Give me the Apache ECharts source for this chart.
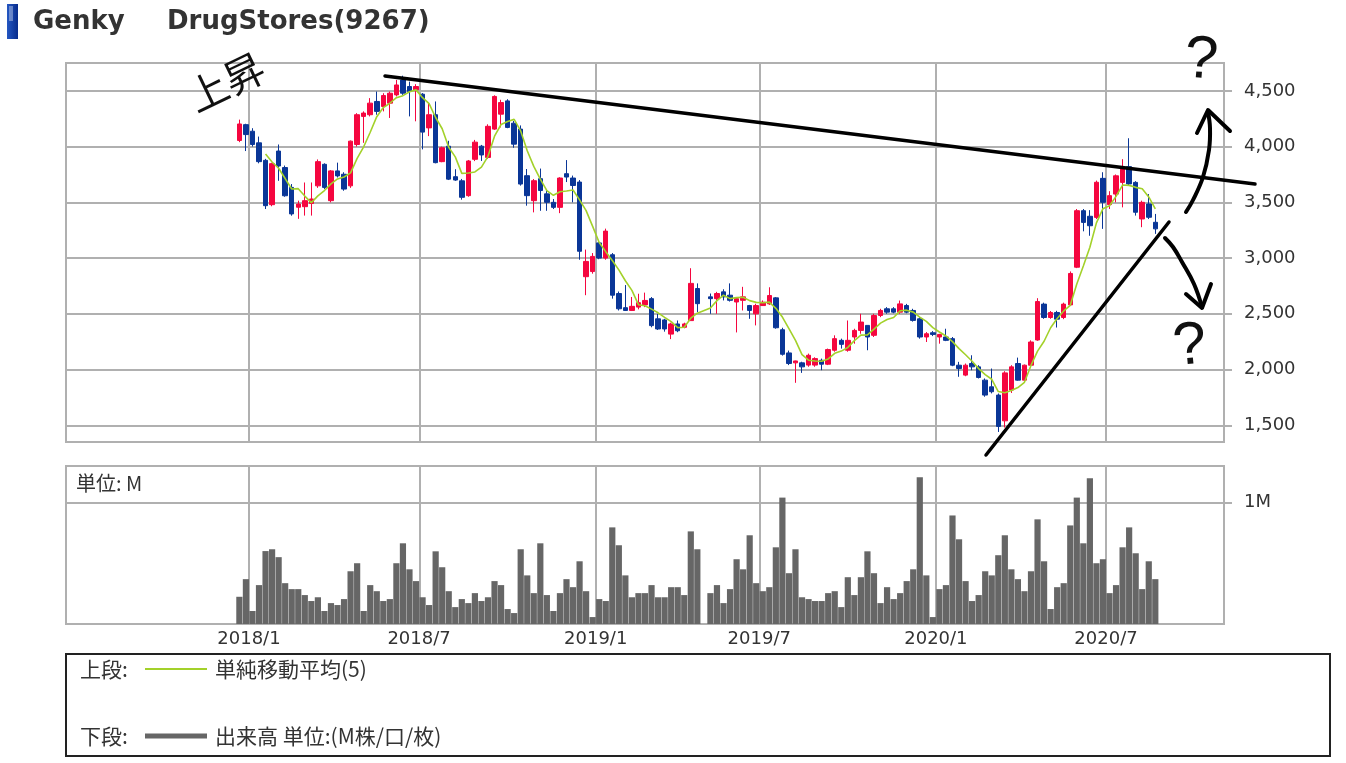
<!DOCTYPE html>
<html><head><meta charset="utf-8">
<script src="https://cdn.jsdelivr.net/npm/echarts@6/dist/echarts.min.js"></script>
<style>html,body{margin:0;padding:0;background:#fff}#c{width:1346px;height:763px}</style>
</head><body><div id="c"></div>
<script>
// ---- axis (weekly categories) ----
const firstAxisWeek = [2017, 6, 19];   // first week on the time axis
const axisWeekCount = 177;
const firstBarWeek = '2017-12-18';     // week of the first candle
const firstLabelWeek = '2018-01-01';
const labelMonths = [1, 7];
const priceTicks = [1500, 2000, 2500, 3000, 3500, 4000, 4500];

// ---- weekly OHLC (yen), one entry per week from firstBarWeek; null = no trading ----
const openPrices = [4055,4197,4138,4034,3877,3479,3960,3812,3634,3456,
3461,3490,3648,3841,3515,3782,3752,3648,4019,4271,
4286,4405,4360,4390,4464,4598,4539,4509,4470,4168,
4286,3865,4004,3730,3693,3560,3886,4004,3903,4157,
4291,4410,4210,4157,3739,3515,3712,3576,3500,3455,
3757,3718,3682,2833,2879,3136,3000,3030,2682,2555,
2530,2560,2580,2636,2455,2445,2318,2409,2379,2439,
2727,null,2652,2636,2697,2667,2606,2621,2574,2500,
2574,2589,2643,2357,2149,2060,2060,2040,2040,2083,
2048,2173,2262,2173,2292,2351,2396,2307,2485,2545,
2545,2515,2574,2530,2455,2292,2330,2292,2292,2277,
2039,1950,2054,2024,1905,1845,1771,1540,1816,2054,
1905,2039,2265,2587,2467,2512,2467,2580,2918,3425,
3375,3365,3715,3480,3574,3679,3820,3679,3351,3485,
3321];
const closePrices = [4203,4108,4019,3865,3470,3847,3826,3559,3396,3485,
3515,3530,3865,3634,3782,3737,3619,4049,4286,4301,
4390,4316,4458,4479,4553,4479,4494,4539,4130,4286,
3856,3990,3708,3700,3545,3871,4040,3925,4182,4450,
4395,4172,4022,3664,3560,3694,3606,3500,3455,3718,
3727,3651,3061,2970,3015,3000,3242,2667,2545,2530,
2567,2600,2620,2394,2364,2364,2409,2348,2409,2773,
2591,null,2636,2682,2652,2621,2636,2652,2530,2574,
2604,2664,2375,2137,2054,2077,2024,2128,2098,2048,
2179,2277,2226,2262,2351,2426,2292,2485,2530,2515,
2515,2589,2515,2441,2292,2321,2315,2315,2262,2039,
2009,2039,2024,1929,1771,1801,1490,1970,2024,1905,
2039,2247,2610,2467,2512,2452,2587,2862,3425,3320,
3290,3680,3500,3560,3738,3798,3665,3411,3500,3366,
3262];
const lowPrices = [4040,3960,4000,3850,3440,3465,3693,3550,3380,3352,
3381,3381,3630,3620,3500,3723,3604,3630,4000,4034,
4271,4286,4316,4257,4450,4464,4271,4227,3975,4094,
3850,3860,3700,3693,3524,3550,3870,3871,3890,4150,
4172,4165,3990,3650,3470,3410,3424,3424,3440,3403,
3682,3500,2985,2667,2860,2990,2985,2636,2530,2525,
2525,2540,2560,2379,2355,2340,2273,2335,2370,2439,
2515,null,2500,2500,2620,2610,2333,2530,2455,2396,
2570,2580,2366,2125,2040,1881,1970,2025,2025,1994,
2040,2160,2188,2160,2232,2321,2173,2292,2470,2500,
2505,2500,2505,2430,2277,2247,2300,2232,2255,2030,
1935,1940,1994,1920,1756,1786,1440,1480,1790,1900,
1895,2025,2258,2455,2455,2377,2452,2570,2910,3240,
3200,3350,3262,3440,3500,3455,3655,3381,3277,3350,
3217];
const highPrices = [4242,4205,4165,4090,3890,3855,4019,3830,3664,3515,
3678,3678,3885,3850,3790,3856,3770,4055,4300,4316,
4435,4494,4479,4494,4598,4636,4583,4560,4480,4390,
4405,4000,4052,3797,3710,3880,4060,4015,4200,4460,
4420,4425,4230,4190,3799,3709,3803,3620,3530,3725,
3879,3740,3700,3076,3045,3151,3264,3045,2700,2758,
2651,2680,2690,2650,2500,2455,2420,2440,2420,2909,
2773,null,2682,2697,2720,2773,2650,2742,2580,2590,
2620,2738,2650,2375,2170,2080,2070,2143,2110,2098,
2188,2307,2277,2440,2366,2500,2396,2500,2545,2560,
2560,2619,2589,2545,2470,2336,2345,2320,2366,2292,
2069,2054,2128,2039,1920,2009,1785,1985,2039,2107,
2045,2262,2640,2600,2525,2527,2600,2880,3440,3440,
3430,3695,3770,3600,3750,3887,4075,3690,3515,3574,
3396];
// ---- weekly volume (million shares) ----
const volumesM = [0.224,0.369,0.107,0.32,0.60,0.615,0.55,0.336,0.287,0.287,
0.238,0.189,0.22,0.107,0.172,0.156,0.205,0.434,0.50,0.107,
0.32,0.27,0.189,0.205,0.50,0.664,0.45,0.353,0.22,0.156,
0.598,0.467,0.27,0.139,0.205,0.172,0.254,0.189,0.22,0.353,
0.32,0.123,0.09,0.615,0.40,0.254,0.664,0.238,0.107,0.254,
0.369,0.303,0.516,0.27,0.057,0.205,0.189,0.795,0.648,0.40,
0.22,0.254,0.254,0.32,0.22,0.22,0.303,0.303,0.238,0.762,
0.615,null,0.254,0.32,0.172,0.287,0.533,0.45,0.73,0.336,
0.27,0.303,0.631,1.04,0.418,0.615,0.22,0.205,0.189,0.189,
0.254,0.27,0.139,0.385,0.238,0.385,0.598,0.418,0.172,0.303,
0.205,0.254,0.353,0.45,1.207,0.40,0.057,0.287,0.32,0.893,
0.697,0.353,0.189,0.238,0.434,0.40,0.566,0.73,0.45,0.369,
0.27,0.434,0.861,0.516,0.123,0.303,0.336,0.811,1.04,0.664,
1.2,0.50,0.533,0.254,0.32,0.631,0.795,0.582,0.287,0.516,
0.369];

// ---- build the tables the library needs ----
const pad = n => (n < 10 ? '0' : '') + n;
const categories = [];
const t0 = Date.UTC(firstAxisWeek[0], firstAxisWeek[1] - 1, firstAxisWeek[2]);
for (let i = 0; i < axisWeekCount; i++) {
  const d = new Date(t0 + i * 7 * 86400000);
  categories.push(d.getUTCFullYear() + '-' + pad(d.getUTCMonth() + 1) + '-' + pad(d.getUTCDate()));
}
const offset = categories.indexOf(firstBarWeek);
const candleData = categories.map(() => '-');
const volumeData = categories.map(() => '-');
const maData = categories.map(() => '-');
const recent = [];
openPrices.forEach((o, i) => {
  const k = offset + i;
  if (o == null) return;
  candleData[k] = [o, closePrices[i], lowPrices[i], highPrices[i]];
  volumeData[k] = volumesM[i];
  recent.push(closePrices[i]);
  if (recent.length >= 5) {
    const last = recent.slice(-5);
    maData[k] = last.reduce((a, b) => a + b, 0) / 5;
  }
});
const isLabelWeek = (idx, val) => {
  if (String(val) < firstLabelWeek) return false;
  const p = String(val).split('-').map(Number);
  return labelMonths.indexOf(p[1]) >= 0 && p[2] <= 7;
};
const fmtNum = v => String(v).replace(/\B(?=(\d{3})+(?!\d))/g, ',');

const GRID = '#b0b0b0';
const chart = echarts.init(document.getElementById('c'));
const jp = '"Noto Sans CJK JP", sans-serif';
const num = '"DejaVu Sans", sans-serif';
const txt = (x, y, text, size, extra) => Object.assign({type: 'text', x: x, y: y,
  style: {text: text, fill: '#333', fontSize: size, fontFamily: jp, verticalAlign: 'middle', textVerticalAlign: 'middle'}}, extra || {});

chart.setOption({
  backgroundColor: '#fff',
  animation: false,
  grid: [
    {left: 66, top: 63, width: 1158, height: 379, show: true, borderColor: GRID, borderWidth: 2, backgroundColor: '#fff'},
    {left: 66, top: 466, width: 1158, height: 158, show: true, borderColor: GRID, borderWidth: 2, backgroundColor: '#fff'}
  ],
  xAxis: [
    {type: 'category', gridIndex: 0, data: categories, boundaryGap: true,
     axisLine: {show: false}, axisTick: {show: false}, axisLabel: {show: false},
     splitLine: {show: true, interval: isLabelWeek, lineStyle: {color: GRID, width: 2}}},
    {type: 'category', gridIndex: 1, data: categories, boundaryGap: true,
     axisLine: {show: false}, axisTick: {show: false},
     axisLabel: {show: true, interval: isLabelWeek, margin: 6, padding: [0, 7, 0, 0],
       color: '#333', fontSize: 18, fontFamily: num,
       formatter: v => { const p = v.split('-').map(Number); return p[0] + '/' + p[1]; }},
     splitLine: {show: true, interval: isLabelWeek, lineStyle: {color: GRID, width: 2}}}
  ],
  yAxis: [
    {type: 'value', gridIndex: 0, position: 'right', min: 1350, max: 4750, splitNumber: 7, scale: true,
     axisLine: {show: false},
     axisTick: {show: true, length: 8, customValues: priceTicks, lineStyle: {color: GRID, width: 2}},
     axisLabel: {margin: 20, color: '#333', fontSize: 18, fontFamily: num,
       formatter: v => priceTicks.indexOf(v) >= 0 ? fmtNum(v) : ''},
     splitLine: {show: true, lineStyle: {color: GRID, width: 2}}},
    {type: 'value', gridIndex: 1, position: 'right', min: 0, max: 1.3, interval: 1,
     axisLine: {show: false},
     axisTick: {show: true, length: 8, customValues: [1], lineStyle: {color: GRID, width: 2}},
     axisLabel: {margin: 20, color: '#333', fontSize: 18, fontFamily: num,
       formatter: v => v === 1 ? '1M' : ''},
     splitLine: {show: true, lineStyle: {color: GRID, width: 2}}}
  ],
  series: [
    {type: 'candlestick', xAxisIndex: 0, yAxisIndex: 0, data: candleData, barWidth: 5,
     itemStyle: {color: '#f5063f', color0: '#0a3697', borderColor: '#f5063f', borderColor0: '#0a3697', borderWidth: 1}},
    {type: 'line', xAxisIndex: 0, yAxisIndex: 0, data: maData, showSymbol: false, connectNulls: true,
     lineStyle: {color: '#a3d12a', width: 1.6}, z: 5},
    {type: 'bar', xAxisIndex: 1, yAxisIndex: 1, data: volumeData, barWidth: 6.2,
     itemStyle: {color: '#666666'}}
  ],
  graphic: [
    // title
    {type: 'rect', shape: {x: 7, y: 4, width: 11, height: 35},
     style: {fill: new echarts.graphic.LinearGradient(0, 0, 1, 0, [{offset: 0, color: '#2457c2'}, {offset: 1, color: '#082c8c'}])}},
    {type: 'rect', shape: {x: 9, y: 6, width: 4, height: 15}, style: {fill: 'rgba(255,255,255,0.35)'}},
    {type: 'text', x: 33, y: 22, style: {text: 'Genky', fill: '#333', fontSize: 26, fontWeight: 'bold', fontFamily: num, verticalAlign: 'middle', textVerticalAlign: 'middle'}},
    {type: 'text', x: 167, y: 22, style: {text: 'DrugStores(9267)', fill: '#333', fontSize: 26, fontWeight: 'bold', fontFamily: num, verticalAlign: 'middle', textVerticalAlign: 'middle'}},
    // volume header
    txt(76, 483, '単位: M', 20),
    // legend box
    {type: 'rect', shape: {x: 66, y: 654, width: 1264, height: 102}, style: {fill: 'none', stroke: '#222', lineWidth: 2}},
    txt(80, 669, '上段:', 21),
    {type: 'line', shape: {x1: 145, y1: 669, x2: 207, y2: 669}, style: {stroke: '#a3d12a', lineWidth: 2}},
    txt(215, 669, '単純移動平均(5)', 21),
    txt(80, 736, '下段:', 21),
    {type: 'line', shape: {x1: 145, y1: 736, x2: 207, y2: 736}, style: {stroke: '#666', lineWidth: 5}},
    txt(215, 736, '出来高 単位:(M株/口/枚)', 21),
    // hand-drawn annotations
    {type: 'text', x: 226, y: 82, rotation: 0.45, z: 100, style: {text: '上昇', fill: '#111', fontSize: 40, fontFamily: jp, align: 'center', verticalAlign: 'middle', textAlign: 'center', textVerticalAlign: 'middle'}},
    {type: 'line', z: 100, shape: {x1: 385, y1: 76, x2: 1255, y2: 184}, style: {stroke: '#000', lineWidth: 3.5, lineCap: 'round'}},
    {type: 'line', z: 100, shape: {x1: 986, y1: 455, x2: 1169, y2: 222}, style: {stroke: '#000', lineWidth: 3.5, lineCap: 'round'}},
    {type: 'polyline', z: 100, shape: {points: [[1186, 212], [1193, 200], [1203, 177], [1209, 150], [1210, 128], [1208, 112]], smooth: 0.4}, style: {stroke: '#000', fill: 'none', lineWidth: 4, lineCap: 'round', lineJoin: 'round'}},
    {type: 'polyline', z: 100, shape: {points: [[1197, 133], [1208, 110], [1230, 131]]}, style: {stroke: '#000', fill: 'none', lineWidth: 4, lineCap: 'round', lineJoin: 'round'}},
    {type: 'polyline', z: 100, shape: {points: [[1165, 238], [1173, 247], [1182, 262], [1194, 284], [1202, 307]], smooth: 0.4}, style: {stroke: '#000', fill: 'none', lineWidth: 4, lineCap: 'round', lineJoin: 'round'}},
    {type: 'polyline', z: 100, shape: {points: [[1186, 294], [1202, 308], [1211, 284]]}, style: {stroke: '#000', fill: 'none', lineWidth: 4, lineCap: 'round', lineJoin: 'round'}},
    {type: 'text', x: 1201, y: 61, rotation: -0.08, z: 100, style: {text: '?', fill: '#111', fontSize: 60, fontFamily: '"Liberation Sans", sans-serif', align: 'center', verticalAlign: 'middle', textAlign: 'center', textVerticalAlign: 'middle'}},
    {type: 'text', x: 1190, y: 347, rotation: 0.1, z: 100, style: {text: '?', fill: '#111', fontSize: 60, fontFamily: '"Liberation Sans", sans-serif', align: 'center', verticalAlign: 'middle', textAlign: 'center', textVerticalAlign: 'middle'}}
  ]
});
</script>
</body></html>
